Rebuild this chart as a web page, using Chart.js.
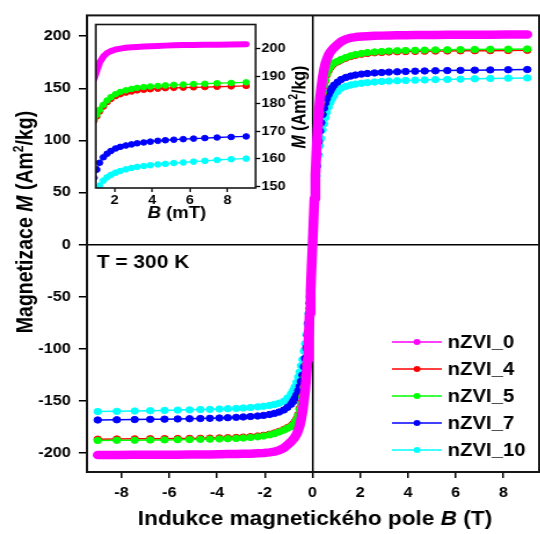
<!DOCTYPE html>
<html>
<head>
<meta charset="utf-8">
<title>Magnetizace nZVI</title>
<script src="https://cdn.jsdelivr.net/npm/chart.js@4.4.0/dist/chart.umd.min.js"></script>
<style>
  html, body { margin: 0; padding: 0; background: #fff; overflow: hidden; }
  #wrap { position: relative; width: 540px; height: 534px; overflow: hidden; }
  #main { position: absolute; left: 0; top: 0; }
  #inset { position: absolute; left: 90px; top: 16px; }
</style>
</head>
<body>
<div id="wrap">
  <canvas id="main" width="470" height="534" style="width:545px;height:534px"></canvas>
  <canvas id="inset" width="190" height="215" style="width:220.3px;height:215px"></canvas>
</div>
<script>
// DATA
const seriesNames = ["nZVI_0", "nZVI_4", "nZVI_5", "nZVI_7", "nZVI_10"];
const seriesColors = ["#ff00ff", "#ff0000", "#00ff00", "#0000ff", "#00ffff"];

// magnetic field B (T), measured points
const fieldT = [
   -9, -8.2, -7.45, -6.8, -6.2, -5.65, -5.15, -4.7, -4.3, -3.9, -3.55, -3.2, -2.9,
   -2.6, -2.3, -2.05, -1.8, -1.6, -1.4, -1.2, -1.05, -0.9, -0.82, -0.75, -0.67,
   -0.6, -0.54, -0.48, -0.42, -0.36, -0.31, -0.26, -0.21, -0.17, -0.12, -0.08, -0.04,
   0,
   0.04, 0.08, 0.12, 0.17, 0.21, 0.26, 0.31, 0.36, 0.42, 0.48, 0.54, 0.6, 0.67,
   0.75, 0.82, 0.9, 1.05, 1.2, 1.4, 1.6, 1.8, 2.05, 2.3, 2.6, 2.9, 3.2, 3.55,
   3.9, 4.3, 4.7, 5.15, 5.65, 6.2, 6.8, 7.45, 8.2, 9,
];

// magnetization M (Am2/kg) for each sample
const mZVI0 = [
   -201.7, -201.6, -201.55, -201.5, -201.45, -201.4, -201.3, -201.2, -201.1, -201.0,
   -200.85, -200.7, -200.6, -200.4, -200.1, -199.8, -199.2, -198.5, -197.2, -195,
   -192, -189, -187, -185, -182, -178, -174, -168, -160, -150, -140, -127, -110,
   -92, -66, -44, -22,
   0,
   22, 44, 66, 92, 110, 127, 140, 150, 160, 168, 174, 178, 182, 185, 187, 189,
   192, 195, 197.2, 198.5, 199.2, 199.8, 200.1, 200.4, 200.6, 200.7, 200.85,
   201.0, 201.1, 201.2, 201.3, 201.4, 201.45, 201.5, 201.55, 201.6, 201.7,
];
const mZVI4 = [
   -186.5, -186.35, -186.2, -186.1, -186.0, -185.9, -185.8, -185.7, -185.5, -185.3,
   -185.1, -184.9, -184.5, -184.1, -183.5, -182.8, -181.8, -180.6, -179.0, -177.2,
   -175.4, -173.8, -172, -170, -167, -163, -157, -152, -145, -136, -126, -114, -99,
   -83, -61, -41, -21,
   0,
   21, 41, 61, 83, 99, 114, 126, 136, 145, 152, 157, 163, 167, 170, 172, 173.8,
   175.4, 177.2, 179.0, 180.6, 181.8, 182.8, 183.5, 184.1, 184.5, 184.9, 185.1,
   185.3, 185.5, 185.7, 185.8, 185.9, 186.0, 186.1, 186.2, 186.35, 186.5,
];
const mZVI5 = [
   -187.8, -187.6, -187.5, -187.3, -187.2, -187.0, -186.9, -186.7, -186.5, -186.3,
   -186.1, -185.8, -185.4, -184.9, -184.3, -183.5, -182.4, -181.2, -179.6, -177.8,
   -176, -174.5, -173, -171, -168, -164, -158, -153, -146, -137, -127, -115, -100,
   -84, -62, -42, -21,
   0,
   21, 42, 62, 84, 100, 115, 127, 137, 146, 153, 158, 164, 168, 171, 173, 174.5,
   176, 177.8, 179.6, 181.2, 182.4, 183.5, 184.3, 184.9, 185.4, 185.8, 186.1,
   186.3, 186.5, 186.7, 186.9, 187.0, 187.2, 187.3, 187.5, 187.6, 187.8,
];
const mZVI7 = [
   -168.1, -167.9, -167.7, -167.5, -167.3, -167.1, -166.9, -166.7, -166.5, -166.2,
   -165.9, -165.6, -165.2, -164.8, -164.3, -163.7, -162.8, -161.8, -160.5, -158.5,
   -156, -153, -150.5, -147.5, -144, -140, -136, -131, -125, -117, -109, -99, -87,
   -75, -56, -38, -19,
   0,
   19, 38, 56, 75, 87, 99, 109, 117, 125, 131, 136, 140, 144, 147.5, 150.5, 153,
   156, 158.5, 160.5, 161.8, 162.8, 163.7, 164.3, 164.8, 165.2, 165.6, 165.9,
   166.2, 166.5, 166.7, 166.9, 167.1, 167.3, 167.5, 167.7, 167.9, 168.1,
];
const mZVI10 = [
   -160.0, -159.8, -159.5, -159.2, -158.9, -158.6, -158.4, -158.1, -157.9, -157.6,
   -157.3, -157.0, -156.6, -156.1, -155.5, -154.9, -154.1, -153.2, -152.0, -150.2,
   -147, -143, -140, -136.5, -132, -127, -122, -116, -110, -102, -95, -86, -76,
   -66, -50, -35, -18,
   0,
   18, 35, 50, 66, 76, 86, 95, 102, 110, 116, 122, 127, 132, 136.5, 140, 143,
   147, 150.2, 152.0, 153.2, 154.1, 154.9, 155.5, 156.1, 156.6, 157.0, 157.3,
   157.6, 157.9, 158.1, 158.4, 158.6, 158.9, 159.2, 159.5, 159.8, 160.0,
];
const seriesValues = [mZVI0, mZVI4, mZVI5, mZVI7, mZVI10];

// tick labels
const fieldTicks = [-8, -6, -4, -2, 0, 2, 4, 6, 8];
const magTicks = [-200, -150, -100, -50, 0, 50, 100, 150, 200];
const insetFieldTicks = [2, 4, 6, 8];
const insetMagTicks = [150, 160, 170, 180, 190, 200];

// drawing order: nZVI_0 on top, then nZVI_5, nZVI_4, nZVI_7, nZVI_10
const drawOrder = [0, 2, 1, 3, 4];

const FONT = '"Liberation Sans", Arial, sans-serif';

// FONCTIONS

function makeDatasets(thick, thin, radius) {
   return seriesValues.map(function (vals, i) {
      const isBand = i === 0;
      return {
         label: seriesNames[i],
         data: fieldT.map((b, k) => ({ x: b, y: vals[k] })),
         borderColor: seriesColors[i],
         backgroundColor: seriesColors[i],
         borderWidth: isBand ? thick : thin,
         borderCapStyle: "round",
         borderJoinStyle: "round",
         pointRadius: isBand ? 0 : radius,
         pointBorderWidth: 1,
         pointBorderColor: seriesColors[i],
         pointBackgroundColor: seriesColors[i],
         tension: 0,
         order: drawOrder[i],
      };
   });
}

// text made of several styled pieces (italic symbols, superscripts)
function drawRuns(ctx, runs, x, y, angle) {
   ctx.save();
   ctx.translate(x, y);
   ctx.rotate(angle);
   ctx.textBaseline = "middle";
   ctx.textAlign = "left";
   ctx.fillStyle = "#000";
   let total = 0;
   runs.forEach(function (r) {
      ctx.font = r.font;
      total += ctx.measureText(r.text).width;
   });
   let cx = -total / 2;
   runs.forEach(function (r) {
      ctx.font = r.font;
      ctx.fillText(r.text, cx, r.dy || 0);
      cx += ctx.measureText(r.text).width;
   });
   ctx.restore();
}

function fixedTicks(values) {
   return function (scale) {
      scale.ticks = values.map((v) => ({ value: v }));
   };
}

const framePlugin = {
   id: "frame",
   beforeDraw(chart, args, opts) {
      if (!opts.fill) return;
      const a = chart.chartArea;
      chart.ctx.save();
      chart.ctx.fillStyle = "#fff";
      chart.ctx.fillRect(a.left, a.top, a.right - a.left, a.bottom - a.top);
      chart.ctx.restore();
   },
   afterDraw(chart, args, opts) {
      const ctx = chart.ctx;
      const a = chart.chartArea;
      ctx.save();
      ctx.strokeStyle = "#151515";
      ctx.lineWidth = opts.width;
      ctx.strokeRect(a.left, a.top, a.right - a.left, a.bottom - a.top);
      ctx.restore();
   },
};

// MAIN CHART
const mainTexts = {
   id: "mainTexts",
   afterDraw(chart) {
      const ctx = chart.ctx;
      const b = "bold 19.5px " + FONT;
      const bi = "italic bold 19.5px " + FONT;
      drawRuns(ctx, [
         { text: "Magnetizace ", font: b },
         { text: "M", font: bi },
         { text: " (Am", font: b },
         { text: "2", font: "bold 12px " + FONT, dy: -6 },
         { text: "/kg)", font: b },
      ], 22.5, 222, -Math.PI / 2);
      drawRuns(ctx, [
         { text: "Indukce magnetického pole ", font: b },
         { text: "B", font: bi },
         { text: " (T)", font: b },
      ], 271.6, 520, 0);

      ctx.save();
      ctx.fillStyle = "#000";
      ctx.textBaseline = "middle";
      ctx.font = "bold 18px " + FONT;
      ctx.fillText("T = 300 K", 83.6, 263);

      // legend
      seriesNames.forEach(function (name, i) {
         const y = 342 + 27 * i;
         ctx.strokeStyle = seriesColors[i];
         ctx.lineWidth = 1.6;
         ctx.beginPath();
         ctx.moveTo(338, y);
         ctx.lineTo(381, y);
         ctx.stroke();
         ctx.fillStyle = seriesColors[i];
         ctx.beginPath();
         ctx.arc(359.6, y, 3, 0, Math.PI * 2);
         ctx.fill();
         ctx.fillStyle = "#000";
         ctx.font = "bold 17.5px " + FONT;
         ctx.fillText(name, 386, y + 1);
      });
      ctx.restore();
   },
};

const zeroGrid = (c) => (c.tick && c.tick.value === 0 ? "#000" : "rgba(0,0,0,0)");

window.chart1 = new Chart(document.getElementById("main").getContext("2d"), {
   type: "line",
   data: { datasets: makeDatasets(8.5, 1.5, 3.2) },
   options: {
      responsive: false,
      animation: false,
      events: [],
      layout: { padding: { left: 0, top: 14, right: 1, bottom: 0 } },
      plugins: {
         legend: { display: false },
         tooltip: { enabled: false },
         frame: { width: 2 },
      },
      scales: {
         x: {
            type: "linear",
            min: -9.45,
            max: 9.5,
            afterBuildTicks: fixedTicks(fieldTicks),
            afterFit: (s) => { s.height = 62; },
            border: { display: false },
            grid: { color: zeroGrid, lineWidth: 1.5, tickColor: "#000", tickLength: 6, tickWidth: 1.5 },
            ticks: { color: "#000", padding: 7, maxRotation: 0, font: { family: FONT, size: 14, weight: "bold" } },
         },
         y: {
            type: "linear",
            min: -218,
            max: 220,
            afterBuildTicks: fixedTicks(magTicks),
            afterFit: (s) => { s.width = 75; },
            border: { display: false },
            grid: { color: zeroGrid, lineWidth: 1.5, tickColor: "#000", tickLength: 7, tickWidth: 1.5 },
            ticks: { color: "#000", padding: 7, font: { family: FONT, size: 14, weight: "bold" } },
         },
      },
   },
   plugins: [framePlugin, mainTexts],
});

// INSET (zoom on the saturation part)
const insetTexts = {
   id: "insetTexts",
   afterDraw(chart) {
      const ctx = chart.ctx;
      const b = "bold 16px " + FONT;
      const bi = "italic bold 16px " + FONT;
      drawRuns(ctx, [
         { text: "M", font: bi },
         { text: " (Am", font: b },
         { text: "2", font: "bold 10px " + FONT, dy: -5 },
         { text: "/kg)", font: b },
      ], 181.5, 91, -Math.PI / 2);
      drawRuns(ctx, [
         { text: "B", font: bi },
         { text: " (mT)", font: b },
      ], 75, 198, 0);
   },
};

window.chart2 = new Chart(document.getElementById("inset").getContext("2d"), {
   type: "line",
   data: { datasets: makeDatasets(6, 1.3, 2.8) },
   options: {
      responsive: false,
      animation: false,
      events: [],
      layout: { padding: { left: 5, top: 4, right: 0, bottom: 0 } },
      plugins: {
         legend: { display: false },
         tooltip: { enabled: false },
         frame: { width: 1.6, fill: true },
      },
      scales: {
         x: {
            type: "linear",
            min: 1,
            max: 9.5,
            afterBuildTicks: fixedTicks(insetFieldTicks),
            afterFit: (s) => { s.height = 43; },
            border: { display: false },
            grid: { drawOnChartArea: false, tickColor: "#000", tickLength: 4, tickWidth: 1.3 },
            ticks: { color: "#000", padding: 1, maxRotation: 0, font: { family: FONT, size: 12.5, weight: "bold" } },
         },
         y: {
            type: "linear",
            position: "right",
            min: 149.3,
            max: 208.9,
            afterBuildTicks: fixedTicks(insetMagTicks),
            afterFit: (s) => { s.width = 47; },
            border: { display: false },
            grid: { drawOnChartArea: false, tickColor: "#000", tickLength: 4, tickWidth: 1.3 },
            ticks: { color: "#000", padding: 1, font: { family: FONT, size: 12.5, weight: "bold" } },
         },
      },
   },
   plugins: [framePlugin, insetTexts],
});
</script>
</body>
</html>
